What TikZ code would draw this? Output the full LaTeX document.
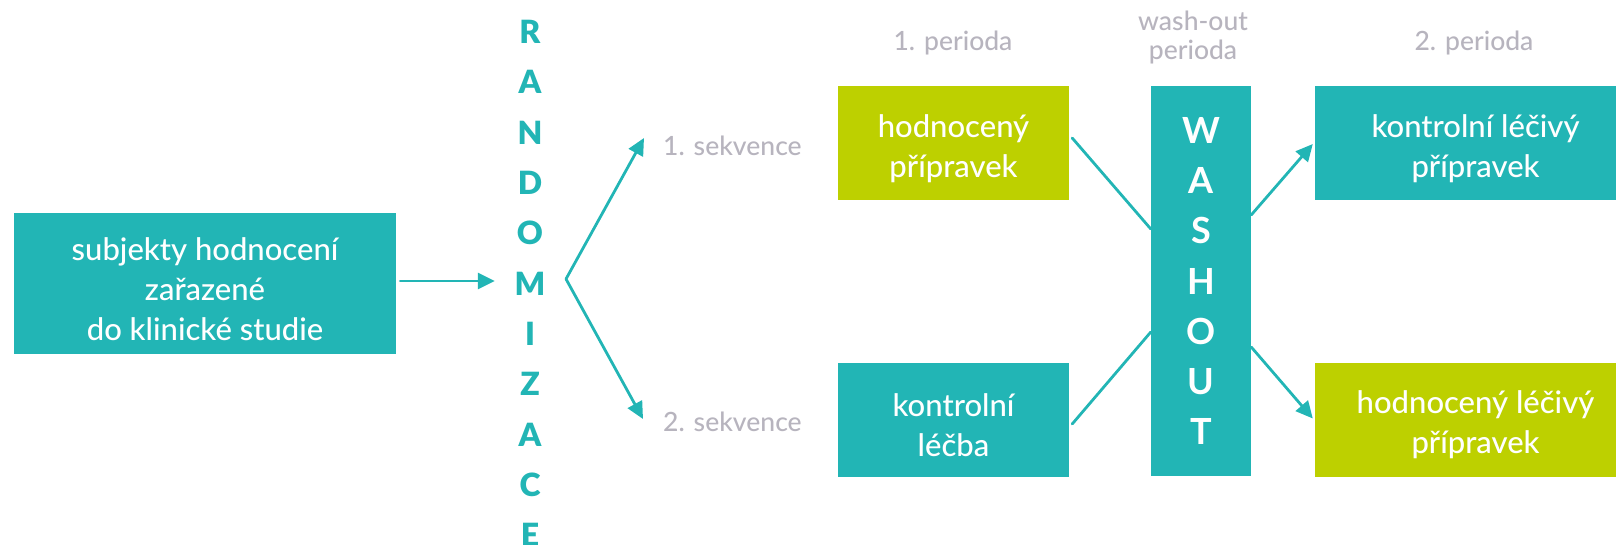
\documentclass[tikz,border=0pt]{standalone}
\usepackage{fontspec}
\setmainfont{Lato Medium}[BoldFont={Lato Bold}]
\newfontfamily\heavyfont{Lato Black}
\usetikzlibrary{arrows.meta,calc}
\definecolor{brandteal}{HTML}{22B5B5}
\definecolor{brandlime}{HTML}{BDD000}
\definecolor{labelgray}{HTML}{B7B4BE}
% taller first line, so box texts sit a little lower
\newcommand{\boxstrut}{\rule{0pt}{34pt}}
\begin{document}
\begin{tikzpicture}[x=1pt,y=-1pt,
  box/.style={rectangle, inner sep=0pt, text=white, align=center,
              font=\fontsize{31}{40}\selectfont},
  tealbox/.style={box, fill=brandteal},
  limebox/.style={box, fill=brandlime},
  smallbox/.style={minimum width=231pt, minimum height=114pt},
  widebox/.style={minimum width=321pt, minimum height=114pt},
  graylabel/.style={text=labelgray, inner sep=0pt, align=center,
                    font=\fontsize{26.5}{29}\selectfont},
  flow/.style={draw=brandteal, line width=2.8pt, line cap=round},
  arrowed/.style={flow, -{Triangle[length=17pt,width=16pt]}},
]
\useasboundingbox (0,0) rectangle (1616,545);
\clip (0,0) rectangle (1616,545);

% enrolment box
\node[tealbox, minimum width=382pt, minimum height=141pt] (subj) at (205,283.5)
  {\boxstrut subjekty hodnocení\\zařazené\\do klinické studie};

% vertical randomisation label
\node[text=brandteal, inner sep=0pt, align=center, text width=36pt,
      font=\heavyfont\fontsize{32}{50.3}\selectfont] (rand) at (530,283.5)
  {R\\A\\N\\D\\O\\M\\I\\Z\\A\\C\\E};
\coordinate (fork) at (566,279);

% sequences
\node[graylabel, anchor=west] (seq1) at (663,146) {1. sekvence};
\node[graylabel, anchor=west] (seq2) at (663,422) {2. sekvence};

% first period
\node[limebox, smallbox] (eval1) at (953.5,143) {\boxstrut hodnocený\\přípravek};
\node[tealbox, smallbox] (ctrl1) at (953.5,419.5) {\boxstrut kontrolní\\léčba};

% wash-out column
\node[fill=brandteal, minimum width=100pt, minimum height=390pt, inner sep=0pt,
      text=white, align=center, font=\bfseries\fontsize{36}{50.3}\selectfont]
  (wash) at (1201,281) {W\\A\\S\\H\\O\\U\\T};

% second period
\node[tealbox, widebox] (ctrl2) at (1475.5,143) {\boxstrut kontrolní léčivý\\přípravek};
\node[limebox, widebox] (eval2) at (1475.5,419.5) {\boxstrut hodnocený léčivý\\přípravek};

% period headings
\node[graylabel] (per1) at (953,43) {1. perioda};
\node[graylabel] (perw) at (1193,37) {wash-out\\perioda};
\node[graylabel] (per2) at (1474,43) {2. perioda};

% connectors
\draw[arrowed, shorten <=4pt, shorten >=17pt]
  ($(subj.east)+(0,-2.5)$) -- ($(subj.east -| rand.west)+(0,-2.5)$);
\draw[arrowed] (fork) -- ($(seq1.west)+(-19,-8)$);
\draw[arrowed] (fork) -- ($(seq2.west)+(-20,-3)$);
\draw[flow] ($(eval1.east)+(3,-5)$) -- ($(wash.west)+(0,-52)$);
\draw[flow] ($(ctrl1.east)+(3,4.5)$) -- ($(wash.west)+(0,51)$);
\draw[arrowed] ($(wash.east)+(0,-66)$) -- ($(ctrl2.west)+(-2,1)$);
\draw[arrowed] ($(wash.east)+(0,66)$) -- ($(eval2.west)+(-2,-1)$);
\end{tikzpicture}
\end{document}
